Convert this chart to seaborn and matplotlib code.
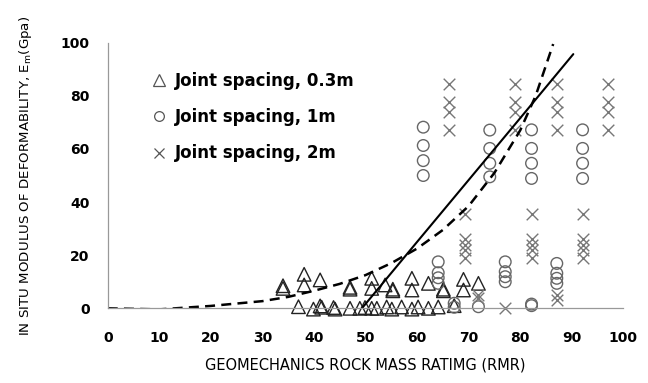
import matplotlib
matplotlib.use("Agg")
import matplotlib.pyplot as plt
from matplotlib.lines import Line2D
import seaborn as sns
import pandas as pd

# RMR vs. in-situ modulus, grouped by joint spacing
tri_x = [34.0, 34.0, 38.1, 38.1, 41.2, 47.0, 47.0, 51.2, 51.2, 53.8, 55.3, 55.3,
         59.0, 59.0, 62.2, 65.1, 65.1, 69.0, 69.0, 71.9,
         37.0, 39.9, 41.2, 41.5, 43.8, 44.1, 47.0, 48.9, 49.9, 51.2, 52.2, 54.1,
         55.1, 57.0, 59.0, 60.2, 62.2, 64.1, 67.2]
tri_y = [8.5, 7.5, 12.8, 8.8, 10.7, 7.9, 7.2, 11.3, 7.5, 8.8, 7.2, 6.6,
         11.3, 6.9, 9.4, 7.2, 6.6, 10.9, 6.9, 9.4,
         0.6, -0.3, 0.9, 0.4, 0.3, -0.3, 0.0, 0.0, 0.3, 0.0, 0.0, 0.5,
         -0.3, 0.5, -0.3, 0.5, 0.0, 0.5, 1.0]

cir_x = [61.2, 61.2, 61.2, 61.2, 74.1, 74.1, 74.1, 74.1,
         82.2, 82.2, 82.2, 82.2, 92.1, 92.1, 92.1, 92.1,
         64.1, 64.1, 64.1, 64.1, 77.1, 77.1, 77.1, 77.1,
         87.1, 87.1, 87.1, 87.1,
         67.2, 67.2, 71.9, 82.2, 82.2]
cir_y = [68.2, 61.3, 55.6, 50.0, 67.1, 60.2, 54.6, 49.5,
         67.2, 60.2, 54.6, 48.9, 67.2, 60.2, 54.6, 48.9,
         17.5, 13.4, 11.5, 9.4, 17.5, 13.8, 11.9, 10.0,
         16.9, 13.2, 11.3, 9.4,
         1.9, 0.4, 0.6, 1.6, 1.0]

crs_x = [66.2, 66.2, 66.2, 66.2, 79.0, 79.0, 79.0, 79.0,
         87.2, 87.2, 87.2, 87.2, 97.1, 97.1, 97.1, 97.1,
         69.2, 69.2, 69.2, 69.2, 69.2, 82.2, 82.2, 82.2, 82.2, 82.2,
         92.1, 92.1, 92.1, 92.1, 92.1,
         71.9, 71.9, 77.1, 87.1, 87.1]
crs_y = [84.5, 77.5, 74.0, 67.0, 84.5, 77.5, 74.0, 67.0,
         84.5, 77.5, 74.0, 67.0, 84.5, 77.5, 74.0, 67.0,
         35.5, 26.0, 24.0, 22.0, 19.0, 35.5, 26.0, 24.0, 22.0, 19.0,
         35.5, 26.0, 24.0, 22.0, 19.0,
         5.0, 3.8, 0.2, 5.0, 3.1]

# empirical relations
solid_x = [49.3, 60.0, 70.0, 80.0, 90.3]
solid_y = [0.0, 25.0, 48.3, 71.6, 95.7]
dash_x = [0, 10, 20, 30, 35, 40, 45, 50, 55, 60, 65, 70, 75, 80, 83, 86.4]
dash_y = [0, -0.4, 0.9, 2.7, 4.3, 6.6, 9.2, 12.5, 17.0, 22.5, 29.5, 38.5,
          51.0, 67.0, 80.0, 99.5]

labels = ["Joint spacing, 0.3m", "Joint spacing, 1m", "Joint spacing, 2m"]
xticks = list(range(0, 101, 10))
yticks = list(range(0, 101, 20))

sns.set_theme(style="white")
plt.rcParams["font.family"] = ["DejaVu Sans"]
plt.rcParams["text.color"] = "black"
plt.rcParams["axes.labelcolor"] = "black"

fig = plt.figure(figsize=(6.48, 3.83), dpi=100)
ax = fig.add_axes([0.1662, 0.195, 0.7957, 0.6935])

df_t = pd.DataFrame({"rmr": tri_x, "em": tri_y})
df_c = pd.DataFrame({"rmr": cir_x, "em": cir_y})
df_x = pd.DataFrame({"rmr": crs_x, "em": crs_y})

sns.lineplot(x=dash_x, y=dash_y, ax=ax, color="black", lw=1.8, sort=False,
             linestyle=(0, (4, 2.5)))
sns.lineplot(x=solid_x, y=solid_y, ax=ax, color="black", lw=1.5, sort=False)

sns.scatterplot(data=df_t, x="rmr", y="em", ax=ax, marker="^", s=95,
                facecolor="none", edgecolor="#222222", linewidth=1.0)
sns.scatterplot(data=df_c, x="rmr", y="em", ax=ax, marker="o", s=70,
                facecolor="none", edgecolor="#666666", linewidth=1.0)
sns.scatterplot(data=df_x, x="rmr", y="em", ax=ax, marker="x", s=70,
                color="#777777", linewidth=1.0)

ax.set_xlim(0, 100)
ax.set_ylim(0, 100)
ax.set_xticks(xticks)
ax.set_yticks(yticks)
ax.set_xticklabels([str(v) for v in xticks], fontweight="bold", fontsize=10)
ax.set_yticklabels([str(v) for v in yticks], fontweight="bold", fontsize=10)
ax.tick_params(axis="both", direction="out", length=4, width=0.8,
               color="#888888", labelcolor="black")
ax.tick_params(axis="x", pad=12)
ax.tick_params(axis="y", pad=9)
for side in ("top", "right"):
    ax.spines[side].set_visible(False)
for side in ("left", "bottom"):
    ax.spines[side].set_color("#999999")
    ax.spines[side].set_linewidth(0.9)
for coll in ax.collections:
    coll.set_clip_on(False)

ax.set_xlabel("GEOMECHANICS ROCK MASS RATIMG (RMR)", fontsize=10.5,
              labelpad=9, color="black")
ax.set_ylabel("IN SITU MODULUS OF DEFORMABILITY, E$_\\mathregular{m}$(Gpa)",
              fontsize=9.6, labelpad=19, color="black")

handles = [
    Line2D([], [], linestyle="none", marker="^", markersize=8,
           markerfacecolor="none", markeredgecolor="#555555", markeredgewidth=0.9),
    Line2D([], [], linestyle="none", marker="o", markersize=7,
           markerfacecolor="none", markeredgecolor="#555555", markeredgewidth=0.9),
    Line2D([], [], linestyle="none", marker="x", markersize=7,
           markeredgecolor="#555555", markeredgewidth=0.9),
]
leg = ax.legend(handles, labels, loc="upper left", bbox_to_anchor=(0.055, 0.947),
                frameon=False, handlelength=1.0, handletextpad=0.45,
                labelspacing=1.1, prop={"weight": "bold", "size": 12})
for t in leg.get_texts():
    t.set_color("black")

fig.savefig("out.png", dpi=100)
